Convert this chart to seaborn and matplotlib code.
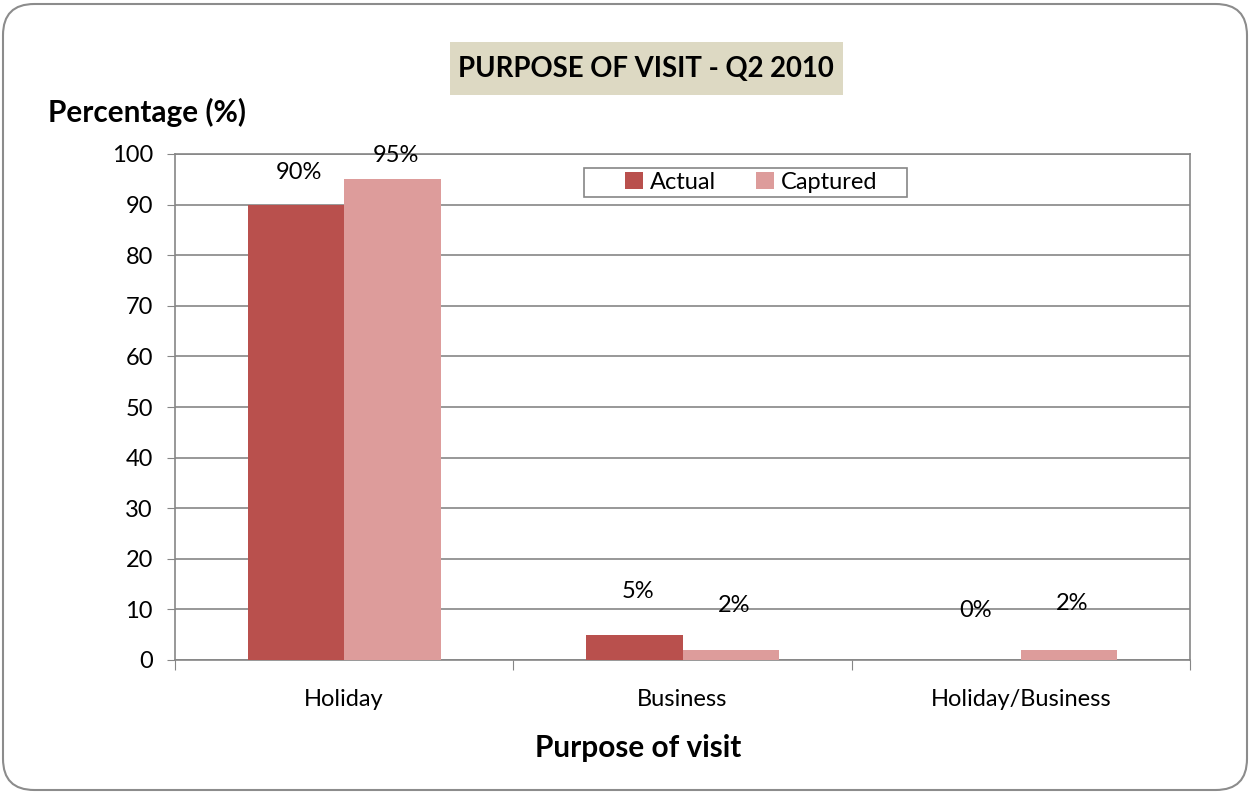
"""
Purpose of visit - Q2 2010 bar chart
"""
import numpy as np
import pandas as pd
import seaborn as sns
import matplotlib.pyplot as plt
from matplotlib.patches import FancyBboxPatch, Rectangle

# %% Data
categories = ['Holiday', 'Business', 'Holiday/Business']
actual = [90, 5, 0]
captured = [95, 2, 2]
series_names = ['Actual', 'Captured']
y_ticks = [0, 10, 20, 30, 40, 50, 60, 70, 80, 90, 100]

# label placement above each bar (data units), as drawn in the original
label_offsets = {'Actual': [6.4, 8.6, 9.7], 'Captured': [4.8, 8.7, 9.1]}

COLORS = {'Actual': '#B9504D', 'Captured': '#DD9C9B'}
GRID = '#868686'
FS = 17

df = pd.DataFrame({
    'category': categories * 2,
    'series': ['Actual'] * 3 + ['Captured'] * 3,
    'value': actual + captured,
})

# %% Plot
sns.set_style('white')
plt.rcParams['font.family'] = ['Lato', 'DejaVu Sans']
plt.rcParams['text.color'] = 'black'
plt.rcParams['xtick.color'] = 'black'
plt.rcParams['ytick.color'] = 'black'

fig = plt.figure(figsize=(12.5, 7.93), dpi=100)

# rounded outer frame
frame = FancyBboxPatch((3 / 1250, 3 / 793), 1244 / 1250, 786 / 793,
                       boxstyle='round,pad=0,rounding_size=0.025',
                       transform=fig.transFigure, facecolor='none',
                       edgecolor='#8C8C8C', linewidth=1.5, mutation_aspect=1250 / 793,
                       zorder=-1)
fig.patches.append(frame)

ax = fig.add_axes([175 / 1250, 1 - 660 / 793, 1015 / 1250, 506 / 793])
ax.set_facecolor('none')

sns.barplot(data=df, x='category', y='value', hue='series',
            hue_order=series_names, palette=COLORS, width=0.57,
            linewidth=0, saturation=1, ax=ax, zorder=3)

ax.set_ylim(0, 100)
ax.set_xlim(-0.5, 2.5)
ax.set_yticks(y_ticks)
ax.yaxis.grid(True, color=GRID, linewidth=1.2, zorder=0)
ax.set_axisbelow(True)

# category boundary ticks, labels at centers
ax.set_xticks([-0.5, 0.5, 1.5, 2.5])
ax.set_xticklabels([])
ax.set_xticks(np.arange(len(categories)), minor=True)
ax.set_xticklabels(categories, minor=True, fontsize=FS)
ax.tick_params(axis='x', which='major', length=7, color=GRID, direction='out', bottom=True)
ax.tick_params(axis='x', which='minor', length=0, pad=21)
ax.tick_params(axis='y', length=6, color=GRID, direction='out', left=True,
               labelsize=FS, pad=10)

for sp in ax.spines.values():
    sp.set_color(GRID)
    sp.set_linewidth(1.2)
    sp.set_visible(True)

ax.set_xlabel('')
ax.set_ylabel('')

# value labels
half = 0.57 / 4
for name in series_names:
    vals = actual if name == 'Actual' else captured
    for i, v in enumerate(vals):
        xpos = i - half if name == 'Actual' else i + half
        ax.text(xpos + 0.01, v + label_offsets[name][i], f'{v}%',
                ha='center', va='center', fontsize=FS, zorder=4)

# legend: wide box drawn by hand, entries centred in it
ax.add_patch(Rectangle((0.403, 0.915), 0.318, 0.057, transform=ax.transAxes,
                       facecolor='white', edgecolor=GRID, linewidth=1.2,
                       zorder=4.5, clip_on=False))
leg = ax.legend(loc='center', bbox_to_anchor=(0.568, 0.944), ncol=2,
                fontsize=FS, frameon=False, handlelength=0.75,
                handleheight=0.75, handletextpad=0.3, columnspacing=1.7,
                borderpad=0.1, borderaxespad=0)
leg.set_zorder(5)

# title box
fig.patches.append(Rectangle((450 / 1250, 1 - 95 / 793), 393 / 1250, 53 / 793,
                             transform=fig.transFigure, facecolor='#DDD9C3',
                             edgecolor='none', zorder=-1))
fig.text(646 / 1250, 1 - 69 / 793, 'PURPOSE OF VISIT - Q2 2010',
         ha='center', va='center', fontsize=19.8, fontweight='bold')

fig.text(48 / 1250, 1 - 112 / 793, 'Percentage (%)', ha='left', va='center',
         fontsize=21.4, fontweight='bold')
fig.text(638 / 1250, 1 - 748 / 793, 'Purpose of visit', ha='center', va='center',
         fontsize=21.4, fontweight='bold')

fig.savefig('out.png', dpi=100)
